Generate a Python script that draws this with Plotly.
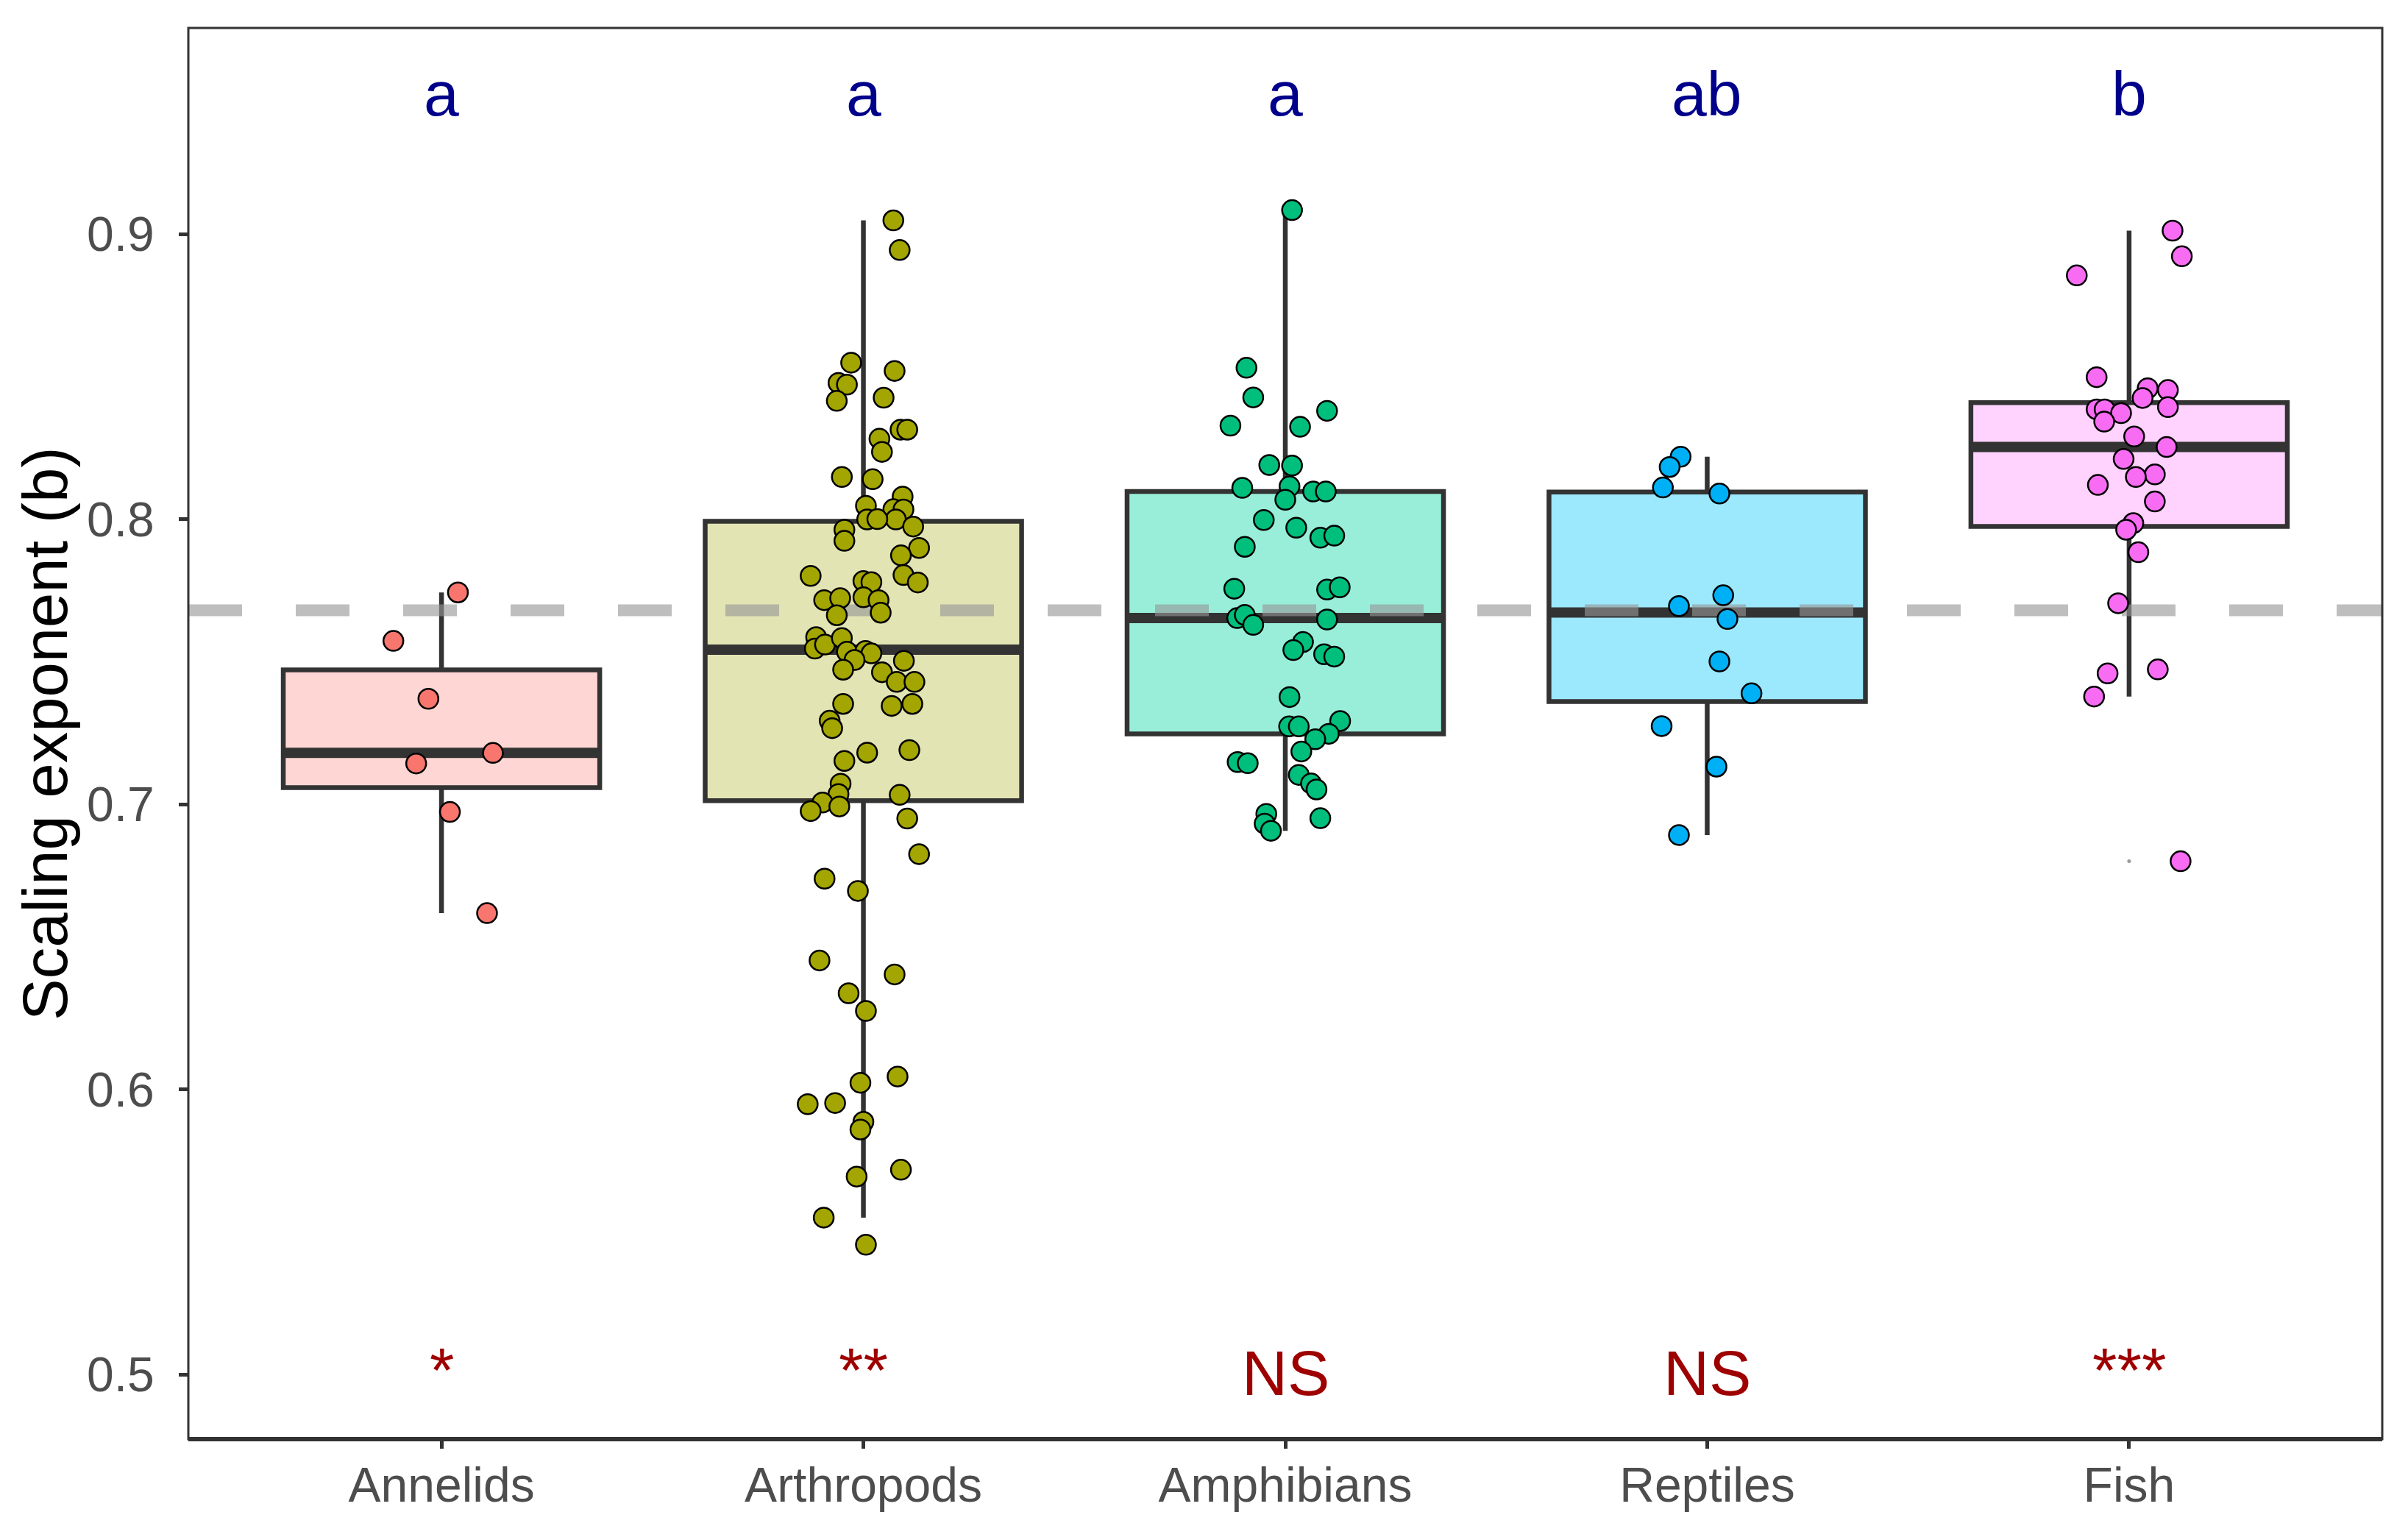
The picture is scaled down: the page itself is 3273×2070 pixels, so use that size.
import numpy as np
import plotly.graph_objects as go

# ---------------- data ----------------
categories = ["Annelids", "Arthropods", "Amphibians", "Reptiles", "Fish"]

annelids = [0.7743, 0.7573, 0.7370, 0.7180, 0.7143, 0.6973, 0.6618]
annelids_jit = [0.039, -0.114, -0.031, 0.122, -0.060, 0.020, 0.108]

arthropods = [0.9048, 0.8944, 0.8549, 0.8478, 0.8472, 0.8415, 0.8520, 0.8426, 0.8314, 0.8314,
              0.8282, 0.8236, 0.8148, 0.8140, 0.8079, 0.8047, 0.8035, 0.8034, 0.7999, 0.7999,
              0.8000, 0.7974, 0.7963, 0.7924, 0.7899, 0.7873, 0.7804, 0.7778, 0.7801, 0.7783,
              0.7779, 0.7716, 0.7723, 0.7726, 0.7716, 0.7663, 0.7672, 0.7586, 0.7546, 0.7560,
              0.7583, 0.7535, 0.7538, 0.7529, 0.7506, 0.7503, 0.7472, 0.7463, 0.7429, 0.7429,
              0.7352, 0.7345, 0.7352, 0.7293, 0.7267, 0.7152, 0.7181, 0.7190, 0.7072, 0.7036,
              0.7006, 0.6992, 0.6976, 0.7033, 0.6950, 0.6825, 0.6739, 0.6696, 0.6452, 0.6403,
              0.6337, 0.6275, 0.6023, 0.6045, 0.5948, 0.5952, 0.5886, 0.5859, 0.5694, 0.5718,
              0.5550, 0.5455]
arthropods_jit = [0.071, 0.086, -0.029, -0.059, -0.039, -0.063, 0.074, 0.048, 0.088, 0.104,
                  0.038, 0.044, -0.051, 0.022, 0.093, 0.006, 0.071, 0.095, 0.077, 0.009,
                  0.033, 0.118, -0.045, -0.045, 0.132, 0.089, 0.095, 0.129, -0.125, 0.000,
                  0.019, -0.093, -0.055, 0.000, 0.036, -0.063, 0.041, -0.112, -0.115, -0.091,
                  -0.051, -0.039, 0.005, 0.019, -0.021, 0.096, -0.048, 0.044, 0.079, 0.121,
                  -0.048, 0.067, 0.116, -0.080, -0.074, -0.045, 0.009, 0.109, -0.054, -0.059,
                  -0.097, -0.057, -0.125, 0.086, 0.104, 0.132, -0.092, -0.013, -0.104, 0.074,
                  -0.035, 0.006, -0.007, 0.081, -0.132, -0.067, 0.000, -0.007, -0.016, 0.089,
                  -0.094, 0.006]

amphibians = [0.9084, 0.8531, 0.8427, 0.8328, 0.8380, 0.8324, 0.8190, 0.8188, 0.8110, 0.8115,
              0.8097, 0.8097, 0.8068, 0.7997, 0.7970, 0.7935, 0.7942, 0.7903, 0.7756, 0.7753,
              0.7761, 0.7653, 0.7664, 0.7629, 0.7648, 0.7569, 0.7541, 0.7526, 0.7518, 0.7376,
              0.7273, 0.7273, 0.7292, 0.7247, 0.7228, 0.7185, 0.7148, 0.7144, 0.7103, 0.7073,
              0.7052, 0.6966, 0.6932, 0.6907, 0.6951]
amphibians_jit = [0.016, -0.092, -0.076, -0.130, 0.099, 0.035, -0.038, 0.016, -0.102, 0.010,
                  0.066, 0.096, 0.000, -0.051, 0.026, 0.083, 0.116, -0.096, -0.121, 0.099,
                  0.129, -0.114, -0.096, -0.076, 0.099, 0.042, 0.019, 0.092, 0.116, 0.010,
                  0.009, 0.032, 0.130, 0.103, 0.071, 0.038, -0.113, -0.089, 0.032, 0.061,
                  0.074, -0.045, -0.049, -0.034, 0.083]

reptiles = [0.8219, 0.8183, 0.8111, 0.8090, 0.7733, 0.7695, 0.7650, 0.7501, 0.7389, 0.7274,
            0.7132, 0.6892]
reptiles_jit = [-0.063, -0.089, -0.105, 0.029, 0.038, -0.067, 0.048, 0.029, 0.105, -0.108,
                0.022, -0.067]

fish = [0.9012, 0.8922, 0.8855, 0.8498, 0.8459, 0.8453, 0.8425, 0.8393, 0.8385, 0.8385,
        0.8372, 0.8342, 0.8290, 0.8253, 0.8211, 0.8157, 0.8148, 0.8120, 0.8062, 0.7986,
        0.7963, 0.7884, 0.7705, 0.7473, 0.7459, 0.7378, 0.6800]
fish_jit = [0.103, 0.125, -0.124, -0.077, 0.044, 0.092, 0.032, 0.092, -0.077, -0.058,
            -0.019, -0.059, 0.012, 0.089, -0.013, 0.061, 0.016, -0.074, 0.061, 0.010,
            -0.007, 0.022, -0.026, 0.068, -0.051, -0.083, 0.122]

group_letters = ["a", "a", "a", "ab", "b"]
signif_labels = ["*", "**", "NS", "NS", "***"]
reference_b = 0.768

y_ticks = [0.5, 0.6, 0.7, 0.8, 0.9]
y_tick_labels = ["0.5", "0.6", "0.7", "0.8", "0.9"]

# ---------------- style ----------------
point_colors = ["#F8766D", "#A3A500", "#00BF7D", "#00B0F6", "#F86CF3"]
fill_colors = ["#FED7D4", "#E3E4B3", "#99EED9", "#9CE8FC", "#FFD3FD"]
dark = "#333333"
FONT = "Liberation Sans, Arial, sans-serif"
BOX_W = 0.75
X_RANGE = [-0.6, 4.6]
Y_RANGE = [0.4773, 0.9723]
LETTER_Y = 0.95
SIG_Y = 0.5

groups = [annelids, arthropods, amphibians, reptiles, fish]
jitters = [annelids_jit, arthropods_jit, amphibians_jit, reptiles_jit, fish_jit]


def box_stats(v):
    v = np.asarray(v)
    q1, med, q3 = np.percentile(v, [25, 50, 75])
    iqr = q3 - q1
    lo_f, hi_f = q1 - 1.5 * iqr, q3 + 1.5 * iqr
    inside = v[(v >= lo_f) & (v <= hi_f)]
    out = v[(v < lo_f) | (v > hi_f)]
    return q1, med, q3, inside.min(), inside.max(), out


fig = go.Figure()

stats = [box_stats(g) for g in groups]

# boxes
for i, (s, fc) in enumerate(zip(stats, fill_colors)):
    q1, med, q3, lo, hi, out = s
    fig.add_trace(go.Box(
        x=[i], q1=[q1], median=[med], q3=[q3], lowerfence=[lo], upperfence=[hi],
        width=BOX_W, whiskerwidth=0, fillcolor=fc,
        line=dict(color=dark, width=6.5), boxpoints=False,
        showlegend=False, hoverinfo="skip"))

# thick median lines
mx, my = [], []
for i, s in enumerate(stats):
    mx += [i - BOX_W / 2, i + BOX_W / 2, None]
    my += [s[1], s[1], None]
fig.add_trace(go.Scatter(x=mx, y=my, mode="lines", line=dict(color=dark, width=14),
                         showlegend=False, hoverinfo="skip"))

# boxplot outliers (tiny grey dots)
ox, oy = [], []
for i, s in enumerate(stats):
    for o in s[5]:
        ox.append(i)
        oy.append(o)
fig.add_trace(go.Scatter(x=ox, y=oy, mode="markers",
                         marker=dict(size=5, color="#9A9A9A", line=dict(width=0)),
                         showlegend=False, hoverinfo="skip"))

# reference dashed line
fig.add_trace(go.Scatter(x=X_RANGE, y=[reference_b, reference_b], mode="lines",
                         line=dict(color="rgba(150,150,150,0.62)", width=16, dash="73px,73px"),
                         showlegend=False, hoverinfo="skip"))

# jittered points
for i, (g, j, pc) in enumerate(zip(groups, jitters, point_colors)):
    fig.add_trace(go.Scatter(
        x=[i + d for d in j], y=g, mode="markers",
        marker=dict(size=27, color=pc, line=dict(color="black", width=2.5)),
        showlegend=False, hoverinfo="skip"))

# group letters and significance labels
for i, (lt, sg) in enumerate(zip(group_letters, signif_labels)):
    fig.add_annotation(x=i, y=LETTER_Y, xref="x", yref="y", text=lt, showarrow=False,
                       font=dict(family=FONT, size=86, color="#00008B"),
                       xanchor="center", yanchor="middle", yshift=-3)
    fig.add_annotation(x=i, y=SIG_Y, xref="x", yref="y", text=sg, showarrow=False,
                       font=dict(family=FONT, size=86, color="#9E0000"),
                       xanchor="center", yanchor="middle",
                       yshift=2 if sg == "NS" else 6)

# y-axis title
fig.add_annotation(x=-0.0654, y=0.5, xref="paper", yref="paper",
                   text="Scaling exponent (b)", textangle=-90, showarrow=False,
                   font=dict(family=FONT, size=85, color="black"),
                   xanchor="center", yanchor="middle")

# panel border
fig.add_shape(type="rect", xref="paper", yref="paper", x0=0, x1=1, y0=0, y1=1,
              line=dict(color=dark, width=3), layer="above")
fig.add_shape(type="line", xref="paper", yref="paper", x0=0, x1=1, y0=0, y1=0,
              line=dict(color=dark, width=6), layer="above")

fig.update_layout(
    width=3273, height=2070,
    margin=dict(l=248, r=43, t=30, b=122),
    paper_bgcolor="white", plot_bgcolor="white",
    font=dict(family=FONT),
    xaxis=dict(range=X_RANGE, tickvals=list(range(len(categories))), ticktext=categories,
               showgrid=False, zeroline=False, showline=False,
               ticks="outside", ticklen=12, tickwidth=5, tickcolor=dark,
               tickfont=dict(family=FONT, size=66, color="#4D4D4D"),
               ticklabelstandoff=-7),
    yaxis=dict(range=Y_RANGE, tickvals=y_ticks, ticktext=y_tick_labels,
               showgrid=False, zeroline=False, showline=False,
               ticks="outside", ticklen=12, tickwidth=5, tickcolor=dark,
               tickfont=dict(family=FONT, size=66, color="#4D4D4D"),
               ticklabelstandoff=20),
    boxmode="overlay",
)

fig.write_html("out.html")
